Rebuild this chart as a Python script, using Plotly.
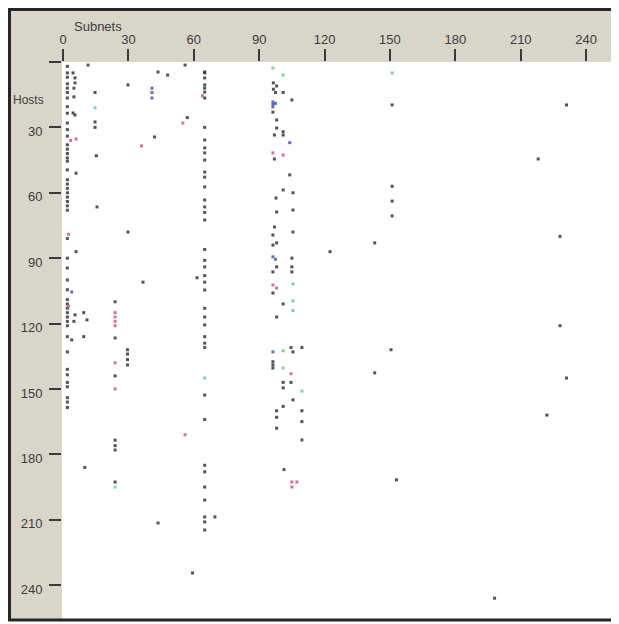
import plotly.graph_objects as go

# ---------------- data (Subnets = x, Hosts = y) ----------------
dark_x = [2]*47 + [4.6, 5.5, 5.5, 5, 5, 4.6, 5.5, 6, 6, 4, 5.5, 5] + \
    [11.5, 14.7, 14.7, 14.7, 15.3, 15.6, 9.5, 11, 9.5, 10] + \
    [23.9, 23.9, 23.9, 23.9, 23.9, 23.9, 23.9] + \
    [29.8, 29.8, 29.6, 29.6, 29.6, 29.6] + \
    [42, 36.7, 43.6, 48, 57, 56, 43.6, 61.5, 69.7, 59.4] + \
    [65]*40 + \
    [96.5, 98, 96.5, 97.5, 101, 105, 96.3, 98, 98, 101, 101, 97, 97, 104, 101, 105.5, 97.7, 98,
     105.5, 97, 105.5, 96.3, 96.3, 98, 105, 98, 105, 96.3, 105, 96.3, 101, 98] + \
    [104.6, 105.5, 109.6, 96.3, 96.3, 96.3, 101, 104.6, 101, 105.5, 98, 98, 101, 109.6, 98,
     109.6, 109.6, 101.4] + \
    [151, 151, 151, 151, 143, 122.5, 231, 218, 228, 228, 150.5, 143, 231, 222, 153, 198]
dark_y = [2, 5, 7, 10, 12, 14, 16.5, 20.5, 23.5, 28, 34, 38, 40, 42, 44, 49.5, 54, 56, 58, 60,
          62, 64, 66, 68, 81, 90, 94.5, 100, 104.5, 109, 111, 113, 115, 117, 119, 121, 126, 133,
          141, 143.5, 147, 149, 154, 156, 158.5, 45.5, 31] + \
    [5, 7.3, 9.6, 12, 16, 23.4, 24.3, 51, 87, 127.5, 116, 119] + \
    [1.4, 14, 27.5, 30, 43, 66.5, 115, 118.3, 126, 186] + \
    [110, 126.6, 144, 173.5, 176, 178, 192.7] + \
    [10.5, 78, 132, 134, 136.5, 139] + \
    [34.4, 101, 4.6, 6, 25.5, 1.4, 211.5, 99, 208.7, 234.4] + \
    [5, 7.3, 10.5, 12, 13.8, 16.5, 30, 35.8, 39.4, 41.7, 45, 50.5, 52.8, 57.3, 63.3, 66.5, 69,
     72.5, 86, 91, 94, 101, 104.6, 113, 117, 120.6, 126, 129, 131, 152.8, 164, 185, 188, 195,
     201, 208.7, 211, 214.7, 4.6, 98] + \
    [9.6, 11, 12.5, 14, 14, 17.4, 23, 26.6, 30.3, 32, 33.5, 33.5, 44.5, 51.8, 58.7, 60, 62.4,
     68.8, 67.9, 75.7, 78, 79.4, 84, 83, 90, 94, 94, 96.3, 96.3, 106, 111, 117] + \
    [131, 133, 131, 137.5, 139, 140.4, 147, 147, 149.5, 155, 160, 163, 158, 160, 168, 165,
     173.4, 187] + \
    [19.7, 57, 63.8, 70.6, 83, 87, 19.7, 44.5, 80, 121, 132, 142.6, 145, 162, 191.7, 246]

blue_x = [40.8, 40.8, 40.8, 4, 96.3, 96.3, 96.3, 97.5, 104, 96.3, 97.5, 96.3]
blue_y = [12, 14, 16.5, 105.5, 18.3, 19.5, 20.6, 19, 37, 89.4, 90.5, 133]

red_x = [3.5, 2.5, 2.5, 6, 23.9, 23.9, 23.9, 23.9, 23.9, 23.9, 36, 55, 64, 56, 96.3, 101, 96.3,
         98, 104.6, 105, 107.3, 105]
red_y = [36, 79, 112, 35.3, 115, 117, 119, 121, 138, 150, 38.5, 28, 15.5, 171, 41.7, 42.7,
         102.3, 103.7, 143, 192.7, 192.7, 195]

green_x = [14.7, 96.3, 101, 105.5, 105.5, 105.5, 101, 101, 65, 151]
green_y = [21, 2.8, 6, 101.8, 109.6, 114, 132.5, 140.4, 145, 5]

cyan_x = [23.9, 109.6]
cyan_y = [195, 151]

x_ticks = [0, 30, 60, 90, 120, 150, 180, 210, 240]
y_ticks = [0, 30, 60, 90, 120, 150, 180, 210, 240]
y_ticktext = [""] + [str(v) for v in y_ticks[1:]]

# ---------------- figure ----------------
# the page body has an 8px margin, so the figure starts at window (8, 8)
OFF = 8
W, H = 611, 616
L, T, R, B = 54, 54, 3, 4
pw, ph = W - L - R, H - T - B


def px(xw):  # window pixel x -> paper
    return (xw - OFF - L) / pw


def py(yw):  # window pixel y -> paper
    return (H - B - (yw - OFF)) / ph


TAN = "#d8d5c9"
fig = go.Figure()

series = [
    (dark_x, dark_y, "#34343e"),
    (blue_x, blue_y, "#4858a8"),
    (red_x, red_y, "#d05c78"),
    (green_x, green_y, "#6cc88c"),
    (cyan_x, cyan_y, "#6cc8c8"),
]
for xs, ys, c in series:
    fig.add_trace(go.Scatter(
        x=xs, y=ys, mode="markers",
        marker=dict(symbol="square", size=3, color=c, line=dict(width=0), opacity=0.85),
        showlegend=False, hoverinfo="skip"))

tickfont = dict(family="Liberation Sans, Arial, sans-serif", size=13, color="#3c3c3c")
fig.update_xaxes(side="top", range=[-0.46, 253.7], tickvals=x_ticks, ticks="outside",
                 ticklen=12, tickwidth=2, tickcolor="#3a3a3a", showgrid=False,
                 zeroline=False, showline=False, tickfont=tickfont)
fig.update_yaxes(range=[256, 0], tickvals=y_ticks, ticktext=y_ticktext, ticks="outside",
                 ticklen=12, tickwidth=1.5, tickcolor="#3a3a3a", showgrid=False,
                 zeroline=False, showline=False, tickfont=tickfont, ticklabelstandoff=4,
                 ticklabelshift=-4)

shapes = [
    # tan left strip and top strip (L-shape)
    dict(type="path", xref="paper", yref="paper", layer="below", line=dict(width=0),
         fillcolor=TAN,
         path=f"M {px(8)},{py(8)} L {px(616)},{py(8)} L {px(616)},{py(62)} L {px(62)},{py(62)} "
              f"L {px(62)},{py(620)} L {px(8)},{py(620)} Z"),
    # frame
    dict(type="line", xref="paper", yref="paper", x0=px(9.5), x1=px(9.5), y0=py(8), y1=py(621),
         line=dict(color="#262626", width=3)),
    dict(type="line", xref="paper", yref="paper", x0=px(8), x1=px(617), y0=py(9.5), y1=py(9.5),
         line=dict(color="#262626", width=3)),
    dict(type="line", xref="paper", yref="paper", x0=px(8), x1=px(617), y0=py(620), y1=py(620),
         line=dict(color="#262626", width=3)),
    dict(type="line", xref="paper", yref="paper", x0=px(616.5), x1=px(616.5), y0=py(8), y1=py(620),
         line=dict(color="#9a9a9a", width=2)),
]

annotations = [
    dict(text="Subnets", xref="paper", yref="paper", x=px(72), y=py(26), xanchor="left",
         yanchor="middle", showarrow=False, font=tickfont),
    dict(text="Hosts", xref="paper", yref="paper", x=px(11), y=py(100), xanchor="left",
         yanchor="middle", showarrow=False,
         font=dict(family="Liberation Sans, Arial, sans-serif", size=12, color="#3c3c3c")),
]

fig.update_layout(width=W, height=H, margin=dict(l=L, r=R, t=T, b=B),
                  paper_bgcolor="white", plot_bgcolor="white",
                  shapes=shapes, annotations=annotations)

fig.write_html("out.html")
